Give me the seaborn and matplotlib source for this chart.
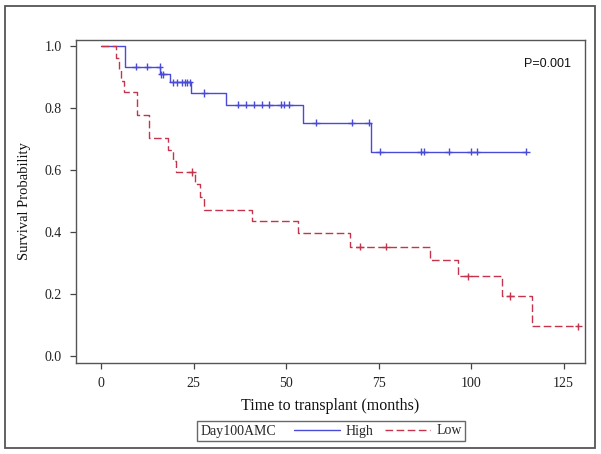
import numpy as np
import pandas as pd
import matplotlib
matplotlib.use("Agg")
import matplotlib.pyplot as plt
import seaborn as sns
from matplotlib.lines import Line2D
from matplotlib.patches import Rectangle
from matplotlib.offsetbox import HPacker

# ---- data ----
groups = ["High", "Low"]
high_times = [0, 6.5, 16.0, 18.5, 24.3, 33.7, 54.5, 72.9, 114.9]
high_surv = [1.0, 0.935, 0.910, 0.884, 0.849, 0.812, 0.754, 0.660, 0.660]
high_censor = [9.4, 12.5, 15.8, 16.3, 16.8, 19.5, 20.6, 21.8, 22.7, 23.3, 23.9,
               27.9, 37.1, 39.1, 41.3, 43.4, 45.5, 48.5, 49.3, 50.9, 58.0,
               67.7, 72.3, 75.4, 86.4, 87.3, 93.9, 100.0, 101.5, 114.9]
low_times = [0, 4.0, 4.8, 5.5, 6.2, 9.6, 12.8, 18.0, 19.3, 20.2, 25.4, 26.8,
             27.7, 40.7, 53.3, 67.3, 88.9, 96.6, 108.3, 116.6, 129.0]
low_surv = [1.0, 0.963, 0.926, 0.889, 0.852, 0.779, 0.703, 0.666, 0.630, 0.595,
            0.554, 0.513, 0.472, 0.437, 0.396, 0.353, 0.309, 0.257, 0.193,
            0.095, 0.095]
low_censor = [24.5, 70.0, 77.0, 99.1, 110.5, 129.0]
x_ticks = [0, 25, 50, 75, 100, 125]
y_ticks = [0.0, 0.2, 0.4, 0.6, 0.8, 1.0]
p_text = "P=0.001"
legend_title = "Day100AMC"

colors = {"High": "#4A4AD8", "Low": "#C4344C"}

def surv_at(times, surv, t):
    idx = np.searchsorted(np.asarray(times), t, side="right") - 1
    return float(np.asarray(surv)[idx])

curve = pd.concat([
    pd.DataFrame({"time": high_times, "surv": high_surv, "group": "High"}),
    pd.DataFrame({"time": low_times, "surv": low_surv, "group": "Low"}),
], ignore_index=True)
cens = pd.concat([
    pd.DataFrame({"time": high_censor,
                  "surv": [surv_at(high_times, high_surv, c) for c in high_censor],
                  "group": "High"}),
    pd.DataFrame({"time": low_censor,
                  "surv": [surv_at(low_times, low_surv, c) for c in low_censor],
                  "group": "Low"}),
], ignore_index=True)

sns.set_style("white")
plt.rcParams["font.family"] = ["Liberation Serif", "DejaVu Serif"]

fig = plt.figure(figsize=(6.01, 4.54), dpi=100)
ax = fig.add_axes([76 / 601, 1 - 363 / 454, (585 - 76) / 601, (363 - 40) / 454])

dash = (5.5, 2.5)
sns.lineplot(data=curve, x="time", y="surv", hue="group", style="group",
             palette=colors, dashes={"High": "", "Low": dash},
             drawstyle="steps-post", estimator=None, sort=False,
             linewidth=1.0, legend=False, ax=ax)
sns.scatterplot(data=cens, x="time", y="surv", hue="group", palette=colors,
                marker="+", s=30, linewidth=1.0, legend=False, ax=ax, zorder=3)

ax.set_xlim(-6.8, 130.8)
ax.set_ylim(-0.023, 1.021)
ax.set_xticks(x_ticks)
ax.set_xticklabels([str(v) for v in x_ticks])
ax.set_yticks(y_ticks)
ax.set_yticklabels([f"{v:.1f}" for v in y_ticks])
ax.tick_params(axis="both", direction="out", length=4, width=0.9,
               color="#444444", labelsize=10, labelcolor="#222222",
               bottom=True, left=True, pad=6)
for sp in ax.spines.values():
    sp.set_color("#555555")
    sp.set_linewidth(1.0)
ax.set_xlabel("Time to transplant (months)", fontsize=11.5, labelpad=6, color="#111111")
ax.set_ylabel("Survival Probability", fontsize=10.5, labelpad=10, color="#111111")

ax.text(0.972, 0.925, p_text, transform=ax.transAxes, ha="right", va="center",
        fontsize=9, family=["Liberation Sans", "DejaVu Sans"], color="#111111")

# legend with title on the left
handles = [Line2D([], [], color=colors["High"], lw=1.0),
           Line2D([], [], color=colors["Low"], lw=1.0, ls=(0, dash))]
leg = fig.legend(handles, groups, loc="center", bbox_to_anchor=(331 / 601, 1 - 431 / 454),
                 ncol=2, frameon=True, fancybox=False, title=legend_title,
                 fontsize=10, title_fontsize=10, handlelength=3.3,
                 handletextpad=0.4, columnspacing=0.8, borderpad=0.25,
                 borderaxespad=0.0)
fs = leg._fontsize
box = HPacker(pad=leg.borderpad * fs, sep=1.3 * fs, align="center",
              children=[leg._legend_title_box, leg._legend_handle_box])
box.set_figure(fig)
leg._legend_box = box
box.set_offset(leg._findoffset)
leg.get_frame().set_edgecolor("#444444")
leg.get_frame().set_linewidth(1.0)

fig.patches.append(Rectangle((5 / 601, 1 - 448 / 454), 590 / 601, 442 / 454,
                             transform=fig.transFigure, fill=False,
                             edgecolor="#555555", linewidth=1.3))

fig.savefig("out.png", dpi=100)
